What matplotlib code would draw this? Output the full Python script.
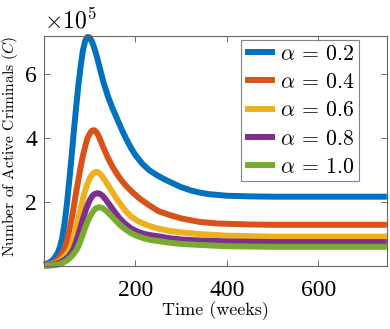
import matplotlib
matplotlib.use("Agg")
import matplotlib.pyplot as plt
from matplotlib.ticker import FuncFormatter

plt.rcParams['mathtext.fontset'] = 'cm'

# time (weeks) and active criminals C (in units of 1e5) for each alpha
t_a02 = [0, 5, 10, 15, 20, 25, 30, 35, 40, 45, 50, 55, 60, 65, 70, 75, 80, 85, 90, 95, 100, 105, 110, 115, 120,
         130, 140, 150, 160, 170, 180, 190, 200, 215, 230, 245, 260, 280, 300, 320, 340, 360, 400, 450, 500, 750]
c_a02 = [0.05, 0.07, 0.1, 0.14, 0.2, 0.3, 0.42, 0.6, 0.9, 1.35, 1.95, 2.65, 3.4, 4.2, 4.95, 5.65, 6.25, 6.75, 7.05, 7.17,
         7.15, 7.02, 6.82, 6.58, 6.3, 5.75, 5.3, 4.93, 4.6, 4.27, 3.97, 3.7, 3.47, 3.2, 3.0, 2.86, 2.74, 2.6, 2.47,
         2.37, 2.3, 2.25, 2.2, 2.18, 2.17, 2.17]

t_a04 = [0, 10, 20, 30, 35, 40, 45, 50, 55, 60, 65, 70, 75, 80, 85, 90, 95, 100, 105, 110, 115, 120, 125, 130,
         140, 150, 160, 170, 180, 194, 210, 230, 250, 274, 300, 340, 380, 450, 500, 750]
c_a04 = [0.03, 0.05, 0.1, 0.2, 0.3, 0.4, 0.55, 0.8, 1.1, 1.45, 1.85, 2.3, 2.7, 3.1, 3.45, 3.75, 4.0, 4.15, 4.24, 4.25,
         4.18, 4.05, 3.88, 3.7, 3.38, 3.1, 2.87, 2.67, 2.5, 2.3, 2.1, 1.9, 1.72, 1.6, 1.49, 1.38, 1.33, 1.3, 1.29, 1.29]

t_a06 = [0, 10, 20, 30, 40, 45, 50, 55, 60, 65, 70, 75, 80, 85, 90, 95, 100, 105, 110, 115, 120, 125, 130,
         140, 150, 160, 170, 180, 190, 205, 220, 235, 250, 274, 300, 340, 400, 500, 750]
c_a06 = [0.02, 0.03, 0.06, 0.12, 0.22, 0.3, 0.38, 0.48, 0.65, 0.9, 1.2, 1.5, 1.8, 2.1, 2.37, 2.58, 2.75, 2.86, 2.93,
         2.95, 2.92, 2.85, 2.75, 2.53, 2.3, 2.08, 1.88, 1.7, 1.55, 1.41, 1.31, 1.23, 1.17, 1.1, 1.05, 1.0, 0.95, 0.92, 0.92]

t_a08 = [0, 10, 20, 30, 40, 50, 55, 60, 65, 70, 75, 80, 85, 90, 95, 100, 105, 110, 117, 122, 128, 135,
         145, 155, 165, 175, 190, 205, 220, 235, 250, 274, 300, 340, 400, 500, 750]
c_a08 = [0.01, 0.02, 0.04, 0.08, 0.15, 0.25, 0.32, 0.42, 0.55, 0.75, 0.98, 1.22, 1.47, 1.7, 1.9, 2.06, 2.18, 2.25,
         2.28, 2.26, 2.2, 2.08, 1.88, 1.68, 1.5, 1.35, 1.18, 1.07, 1.0, 0.96, 0.93, 0.87, 0.83, 0.8, 0.77, 0.75, 0.75]

t_a10 = [0, 10, 20, 30, 40, 50, 60, 65, 70, 75, 80, 85, 90, 95, 100, 105, 110, 115, 121, 127, 135,
         145, 155, 165, 175, 190, 205, 220, 235, 250, 274, 300, 340, 400, 500, 750]
c_a10 = [0.0, 0.01, 0.02, 0.04, 0.09, 0.17, 0.3, 0.39, 0.48, 0.62, 0.8, 1.0, 1.2, 1.38, 1.54, 1.66, 1.76, 1.82,
         1.84, 1.82, 1.74, 1.6, 1.45, 1.3, 1.18, 1.03, 0.93, 0.86, 0.81, 0.78, 0.73, 0.69, 0.66, 0.62, 0.6, 0.6]

labels = [r'$\alpha$ = 0.2', r'$\alpha$ = 0.4', r'$\alpha$ = 0.6', r'$\alpha$ = 0.8', r'$\alpha$ = 1.0']
colors = ['#0072BD', '#D95319', '#EDB120', '#7E2F8E', '#77AC30']

x_ticks = [200, 400, 600]
y_ticks = [2, 4, 6]
scale = 1e5

fig = plt.figure(figsize=(3.9, 3.29), dpi=100)
ax = fig.add_axes([0.113, 0.1915, 0.879, 0.699])

series = [(t_a02, c_a02), (t_a04, c_a04), (t_a06, c_a06), (t_a08, c_a08), (t_a10, c_a10)]
for (t, c), lab, col in zip(series, labels, colors):
    ax.plot(t, [v * scale for v in c], color=col, lw=4.3, label=lab,
            solid_capstyle='butt', solid_joinstyle='round', clip_on=False)

ax.set_xlim(0, 750)
ax.set_ylim(0, 7.2 * scale)
ax.set_xticks(x_ticks)
ax.set_yticks([v * scale for v in y_ticks])
ax.yaxis.set_major_formatter(FuncFormatter(lambda v, p: f'{v/scale:g}'))
ax.tick_params(direction='in', top=True, right=True, length=4, width=0.6, color='#555555',
               labelsize=17)
ax.tick_params(axis='x', pad=10)
ax.tick_params(axis='y', pad=5)
for lab in ax.get_xticklabels() + ax.get_yticklabels():
    lab.set_fontfamily('Liberation Serif')
for s in ax.spines.values():
    s.set_color('#666666')
    s.set_linewidth(0.8)

ax.text(0.0, 1.01, r'$\times10^5$', transform=ax.transAxes, fontsize=17,
        ha='left', va='bottom')

ax.set_xlabel('Time (weeks)', fontfamily='cmr10', fontsize=13, labelpad=0)
ax.set_ylabel(r'Number of Active Criminals ($C$)', fontfamily='cmr10', fontsize=11.2, labelpad=4)
ax.yaxis.set_label_coords(-0.07, 0.52)

leg = ax.legend(loc='upper right', bbox_to_anchor=(0.918, 0.983), fontsize=15.7,
                frameon=True, fancybox=False, edgecolor='#666666', handlelength=1.4,
                handletextpad=0.2, labelspacing=0.4, borderpad=0.2, borderaxespad=0)
leg.get_frame().set_linewidth(0.8)
for line in leg.get_lines():
    line.set_linewidth(4.3)
    line.set_solid_capstyle('butt')
for txt in leg.get_texts():
    txt.set_fontfamily('cmr10')

fig.savefig('out.png', dpi=100)
